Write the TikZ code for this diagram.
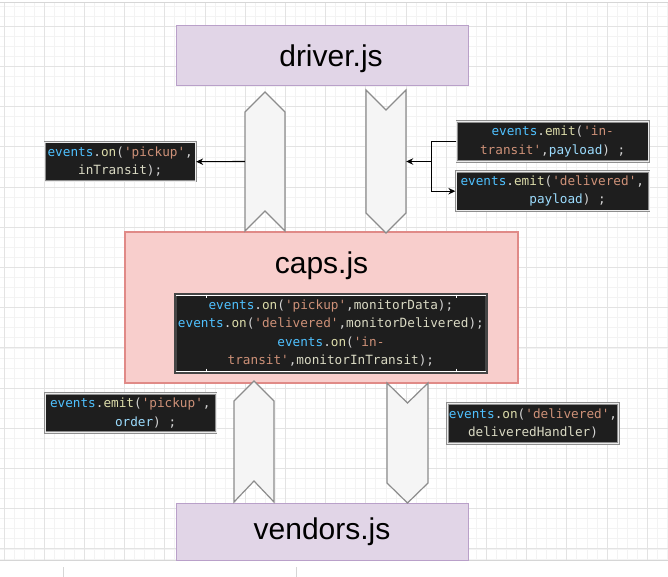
\documentclass[tikz,border=0pt]{standalone}
\usepackage{fontspec}
\setmainfont{Liberation Sans}
\setmonofont{DejaVu Sans Mono}
\usetikzlibrary{arrows.meta}
\definecolor{gminor}{HTML}{F3F3F3}
\definecolor{gmajor}{HTML}{E3E3E3}
\definecolor{gframe}{HTML}{D6D6D6}
\definecolor{purfill}{HTML}{E1D5E7}
\definecolor{purdraw}{HTML}{B9A0C9}
\definecolor{redfill}{HTML}{F8CECC}
\definecolor{reddraw}{HTML}{E08A87}
\definecolor{chevfill}{HTML}{F5F5F5}
\definecolor{chevdraw}{HTML}{8C8C8C}
\definecolor{codebg}{HTML}{1E1E1E}
\definecolor{codebd}{HTML}{8E8E8E}
\definecolor{cev}{HTML}{4FC1FF}
\definecolor{cfn}{HTML}{DCDCAA}
\definecolor{cstr}{HTML}{CE9178}
\definecolor{cvar}{HTML}{9CDCFE}
\definecolor{cpl}{HTML}{D4D4D4}
\definecolor{cid}{HTML}{DADAC4}
\newcommand\codefnt{\ttfamily\fontsize{12.7}{18.5}\selectfont}
\newcommand\jsEv{\textcolor{cev}{events}}
\newcommand\jsFn[1]{\textcolor{cfn}{#1}}
\newcommand\jsStr[1]{\textcolor{cstr}{#1}}
\newcommand\jsId[1]{\textcolor{cid}{#1}}
\newcommand\jsVar[1]{\textcolor{cvar}{#1}}
\tikzset{
  gridminor/.style={draw=gminor, line width=0.8pt},
  gridmajor/.style={draw=gmajor, line width=0.9pt},
  purbox/.style={rectangle, fill=purfill, draw=purdraw, line width=1pt, inner sep=0pt},
  redbox/.style={rectangle, fill=redfill, draw=reddraw, line width=1.2pt, inner sep=0pt},
  title/.style={font=\fontsize{30}{36}\selectfont, text=black, inner sep=0pt},
  chev/.style={fill=chevfill, draw=chevdraw, line width=1.2pt, line join=miter},
  chevarea/.style={rectangle, inner sep=0pt, draw=none},
  codebox/.style={rectangle, fill=codebg, draw=codebd, line width=0.9pt, double=white!92!black,
    double distance=0.6pt, inner sep=0pt, align=center, text=cpl, font=\codefnt},
  conn/.style={draw=black, line width=1.1pt, -{Stealth[length=7pt,width=6.5pt]}},
}
\begin{document}
\begin{tikzpicture}[x=1pt,y=-1pt]
\useasboundingbox (0,0) rectangle (668,577);
\fill[white] (0,0) rectangle (668,577);
% grid
\begin{scope}
\clip (0,3) rectangle (668,560);
\foreach \i in {0,...,66} \draw[gridminor] ({4+\i*10.05},3) -- ({4+\i*10.05},560);
\foreach \i in {-2,...,53} \draw[gridminor] (0,{26.3+\i*10.05}) -- (668,{26.3+\i*10.05});
\foreach \i in {0,...,16} \draw[gridmajor] ({4+\i*40.2},3) -- ({4+\i*40.2},560);
\foreach \i in {0,...,13} \draw[gridmajor] (0,{26.3+\i*40.2}) -- (668,{26.3+\i*40.2});
\end{scope}
\draw[gframe, line width=1pt] (0,3) -- (668,3);
\draw[gframe, line width=1pt] (0,560) -- (668,560);
\draw[gframe, line width=1pt] (63,567) -- (63,577);
\draw[gframe, line width=1pt] (296,567) -- (296,577);

% main boxes
\node[purbox, minimum width=292, minimum height=60] (driver) at (322,56) {};
\node[title] (drivert) at (331,59) {driver.js};
\node[redbox, minimum width=393, minimum height=151] (caps) at (321.5,307.5) {};
\node[title] (capst) at (321.5,266) {caps.js};
\node[purbox, minimum width=292, minimum height=57] (vendors) at (322,531.5) {};
\node[title] (vendorst) at (322,531.4) {vendors.js};

% chevrons top
\draw[chev] (245,112) -- (265,92) -- (285,112) -- (285,231) -- (265,211) -- (245,231) -- cycle;
\node[chevarea, minimum width=40, minimum height=139] (upA) at (265,161.5) {};
\draw[chev] (366,90) -- (386,110) -- (406,90) -- (406,213) -- (386,233) -- (366,213) -- cycle;
\node[chevarea, minimum width=40, minimum height=143] (downA) at (386,161.5) {};
% chevrons bottom
\draw[chev] (234,401) -- (254,381) -- (274,401) -- (274,502) -- (254,481) -- (234,502) -- cycle;
\node[chevarea, minimum width=40, minimum height=121] (upB) at (254,441.5) {};
\draw[chev] (387,383) -- (407.5,403) -- (428,383) -- (428,483) -- (407.5,503) -- (387,483) -- cycle;
\node[chevarea, minimum width=41, minimum height=120] (downB) at (407.5,443) {};

% code boxes
\node[codebox, minimum width=151, minimum height=39] (onpickup) at (120.2,161.7)
  {\jsEv.\jsFn{on}(\jsStr{'pickup'},\\\jsId{inTransit});};
\node[codebox, minimum width=192, minimum height=40] (emittransit) at (552.7,141.7)
  {\jsEv.\jsFn{emit}(\jsStr{'in-}\\\jsStr{transit'},\jsVar{payload}) ;};
\node[codebox, minimum width=193, minimum height=39] (emitdelivered) at (552.3,191.2)
  {\jsEv.\jsFn{emit}(\jsStr{'delivered'},\\\hphantom{xxxx}\jsVar{payload}) ;};
\node[codebox, minimum width=171, minimum height=39] (emitpickup) at (130.3,413)
  {\jsEv.\jsFn{emit}(\jsStr{'pickup'},\\\hphantom{xxxx}\jsVar{order}) ;};
\node[codebox, minimum width=171, minimum height=40] (ondelivered) at (533,423.3)
  {\jsEv.\jsFn{on}(\jsStr{'delivered'},\\\jsId{deliveredHandler})};
\node[codebox, draw=codebg!60!gray, double=codebg!60!gray, minimum width=311, minimum height=78] (capscode) at (330.9,333.3)
  {\jsEv.\jsFn{on}(\jsStr{'pickup'},\jsId{monitorData});\\
   \jsEv.\jsFn{on}(\jsStr{'delivered'},\jsId{monitorDelivered});\\
   \jsEv.\jsFn{on}(\jsStr{'in-}\\
   \jsStr{transit'},\jsId{monitorInTransit});};
% table lines on the inner code box
\draw[white, line width=1pt] (capscode.north west) ++(1,1.5) -- ([xshift=-1pt, yshift=-1.5pt]capscode.north east);
\draw[white, line width=1pt] (capscode.south west) ++(1,-1.5) -- ([xshift=-1pt, yshift=1.5pt]capscode.south east);
\draw[white, line width=1pt] (206.7,294.5) -- (206.7,298);
\draw[white, line width=1pt] (456.7,294.5) -- (456.7,298);
\draw[white, line width=1pt] (206.7,368.5) -- (206.7,372);
\draw[white, line width=1pt] (456.7,368.5) -- (456.7,372);

% connectors
\draw[conn] (upA.west) -- (onpickup.east);
\draw[conn] (emittransit.west) -- ++(-25,0) |- (downA.east);
\draw[conn] (emittransit.west) -- ++(-25,0) |- (emitdelivered.west);
\end{tikzpicture}
\end{document}
